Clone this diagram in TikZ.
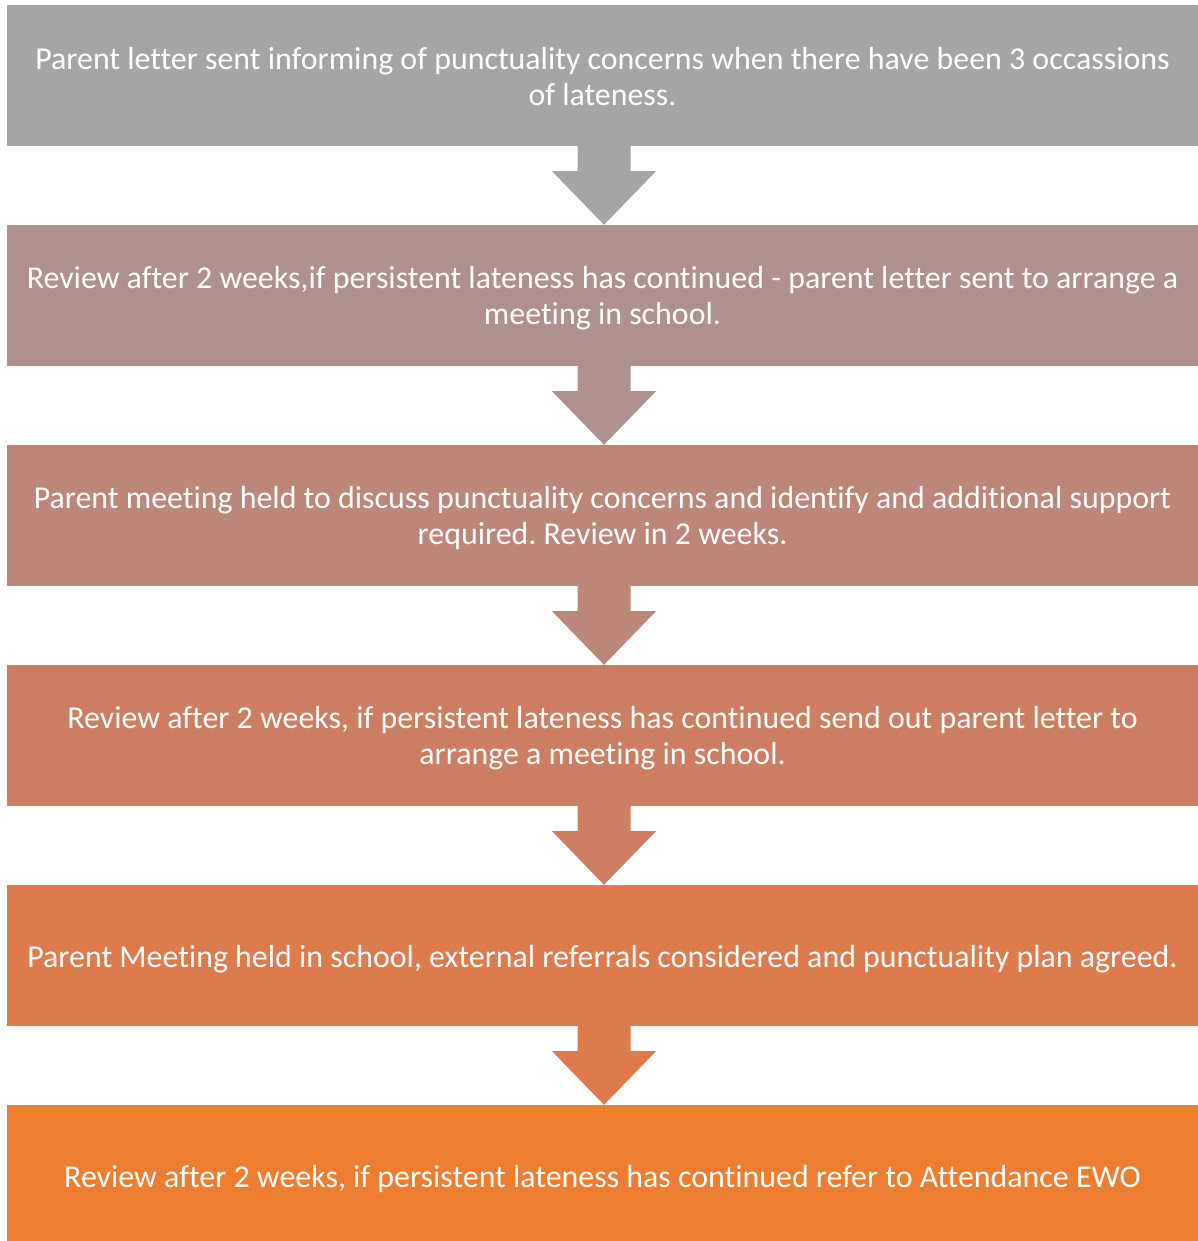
\documentclass[tikz,border=0pt]{standalone}
\usepackage{fontspec}
\setmainfont{Carlito}[RawFeature={-liga}]
\frenchspacing
\usetikzlibrary{calc}
\definecolor{c1}{RGB}{165,165,165}
\definecolor{c2}{RGB}{176,144,141}
\definecolor{c3}{RGB}{188,134,120}
\definecolor{c4}{RGB}{204,125,98}
\definecolor{c5}{RGB}{221,123,76}
\definecolor{c6}{RGB}{237,125,49}
\begin{document}
\begin{tikzpicture}[x=1pt,y=-1pt,
  box/.style={minimum width=1191pt, minimum height=141pt, inner sep=0pt},
  txt/.style={inner sep=0pt, text=white, align=center, font=\fontsize{31.9}{36}\selectfont}]
\useasboundingbox (0,0) rectangle (1198,1241);
\node[box, fill=c1] (b1) at (602.5,75.5) {};
\node[box, fill=c2] (b2) at (602.5,295.5) {};
\node[box, fill=c3] (b3) at (602.5,515.5) {};
\node[box, fill=c4] (b4) at (602.5,735.5) {};
\node[box, fill=c5] (b5) at (602.5,955.5) {};
\node[box, fill=c6] (b6) at (602.5,1175.5) {};
\node[txt] (t1) at ($(b1)+(0,1.5)$) {Parent letter sent informing of punctuality concerns when there have been 3 occassions\\of lateness.};
\node[txt] (t2) at ($(b2)+(0,3)$) {Review after 2 weeks,if persistent lateness has continued - parent letter sent to arrange a\\meeting in school.};
\node[txt] (t3) at ($(b3)+(0,2)$) {Parent meeting held to discuss punctuality concerns and identify and additional support\\required. Review in 2 weeks.};
\node[txt] (t4) at ($(b4)+(0,3)$) {Review after 2 weeks, if persistent lateness has continued send out parent letter to\\arrange a meeting in school.};
\node[txt] (t5) at ($(b5)+(0,3.5)$) {Parent Meeting held in school, external referrals considered and punctuality plan agreed.};
\node[txt] (t6) at ($(b6)+(0,3)$) {Review after 2 weeks, if persistent lateness has continued refer to Attendance EWO};
\foreach \a/\b/\c in {b1/b2/c1, b2/b3/c2, b3/b4/c3, b4/b5/c4, b5/b6/c5} {
  \coordinate (s) at ($(\a.south)+(1.5,0)$);
  \coordinate (t) at ($(\b.north)+(1.5,0)$);
  \fill[\c] ($(s)+(-26.5,-1)$) -- ($(s)+(-26.5,25)$) -- ($(s)+(-52,25)$) -- (t) -- ($(s)+(52,25)$) -- ($(s)+(26.5,25)$) -- ($(s)+(26.5,-1)$) -- cycle;
}
\end{tikzpicture}
\end{document}
